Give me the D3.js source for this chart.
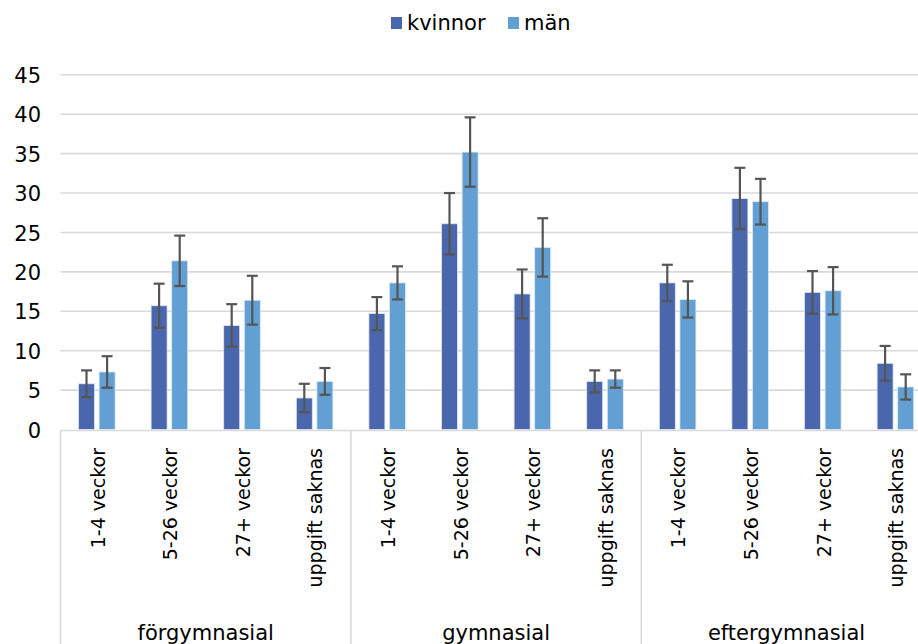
<!DOCTYPE html>
<html>
<head>
<meta charset="utf-8">
<script src="https://cdn.jsdelivr.net/npm/d3@7/dist/d3.min.js"></script>
<style>
  html, body { margin: 0; padding: 0; background: #fff; }
  svg { display: block; }
  text { font-family: "DejaVu Sans", sans-serif; fill: #000; }
</style>
</head>
<body>
<svg id="chart" width="918" height="644"></svg>
<script>
// ---- data ----
const groups = ["förgymnasial", "gymnasial", "eftergymnasial"];
const categories = ["1-4 veckor", "5-26 veckor", "27+ veckor", "uppgift saknas"];
const seriesNames = ["kvinnor", "män"];
const kvinnor = [5.8, 15.7, 13.2, 4.0, 14.7, 26.1, 17.2, 6.1, 18.6, 29.3, 17.4, 8.4];
const man =     [7.3, 21.4, 16.4, 6.1, 18.6, 35.2, 23.1, 6.4, 16.5, 28.9, 17.6, 5.4];
const kvinnorErr = [1.7, 2.8, 2.7, 1.8, 2.1, 3.9, 3.1, 1.4, 2.3, 3.9, 2.7, 2.2];
const manErr =     [2.0, 3.2, 3.1, 1.7, 2.1, 4.4, 3.7, 1.1, 2.3, 2.9, 3.0, 1.6];
const yTicks = [0, 5, 10, 15, 20, 25, 30, 35, 40, 45];
const colors = ["#4a66ac", "#629fd3"];

// ---- layout ----
const W = 918, H = 644;
const x0 = 60.5, step = 72.6;
const plotTop = 74.8, plotBottom = 429.5;
const svg = d3.select("#chart");

const keys = [];
groups.forEach(g => categories.forEach(c => keys.push(g + "|" + c)));

const x = d3.scaleBand().domain(keys).range([x0, x0 + step * keys.length]).padding(0);
const xg = d3.scaleBand().domain(groups).range([x0, x0 + step * keys.length]).padding(0);
const xs = d3.scaleBand().domain(seriesNames).range([18, step - 18]).paddingInner(0.223).paddingOuter(0);
const y = d3.scaleLinear().domain([0, 45]).range([plotBottom, plotTop]);

// gridlines
svg.append("g").selectAll("line").data(yTicks.filter(t => t > 0)).join("line")
  .attr("x1", x0).attr("x2", W)
  .attr("y1", d => y(d)).attr("y2", d => y(d))
  .attr("stroke", "#d9d9d9").attr("stroke-width", 1.6);

// y axis labels
const yAxis = d3.axisLeft(y).tickValues(yTicks).tickSize(0).tickPadding(0);
const ya = svg.append("g").attr("transform", "translate(41,0)").call(yAxis);
ya.select(".domain").remove();
ya.selectAll("text").attr("font-size", 21).attr("font-family", "DejaVu Sans").attr("fill", "#000").attr("dy", "0.36em");

// bars
const seriesData = [
  {name: "kvinnor", values: kvinnor, err: kvinnorErr, color: colors[0]},
  {name: "män", values: man, err: manErr, color: colors[1]}
];
seriesData.forEach(s => {
  const g = svg.append("g");
  keys.forEach((k, i) => {
    const bx = x(k) + xs(s.name);
    g.append("rect")
      .attr("x", bx).attr("width", xs.bandwidth())
      .attr("y", y(s.values[i])).attr("height", y(0) - y(s.values[i]))
      .attr("fill", s.color).attr("stroke", "#dfe8f3").attr("stroke-width", 0.8);
  });
});

// x axis line and group separators
svg.append("line").attr("x1", x0).attr("x2", W).attr("y1", plotBottom + 1).attr("y2", plotBottom + 1)
  .attr("stroke", "#d9d9d9").attr("stroke-width", 1.6);
const seps = groups.map(g => xg(g)).concat([x0 + step * keys.length]);
svg.append("g").selectAll("line").data(seps).join("line")
  .attr("x1", d => d).attr("x2", d => d)
  .attr("y1", plotBottom + 1).attr("y2", H)
  .attr("stroke", "#d9d9d9").attr("stroke-width", 1.6);

// error bars
seriesData.forEach(s => {
  const g = svg.append("g").attr("stroke", "#555555").attr("stroke-width", 2.2);
  keys.forEach((k, i) => {
    const cx = x(k) + xs(s.name) + xs.bandwidth() / 2;
    const hi = y(s.values[i] + s.err[i]), lo = y(s.values[i] - s.err[i]);
    g.append("line").attr("x1", cx).attr("x2", cx).attr("y1", hi).attr("y2", lo);
    g.append("line").attr("x1", cx - 5.5).attr("x2", cx + 5.5).attr("y1", hi).attr("y2", hi);
    g.append("line").attr("x1", cx - 5.5).attr("x2", cx + 5.5).attr("y1", lo).attr("y2", lo);
  });
});

// category labels (rotated)
svg.append("g").selectAll("text").data(keys).join("text")
  .attr("transform", d => `translate(${x(d) + x.bandwidth() / 2 + 1},448) rotate(-90)`)
  .attr("text-anchor", "end").attr("dy", "0.36em")
  .attr("font-size", 19)
  .text(d => d.split("|")[1]);

// group labels
svg.append("g").selectAll("text").data(groups).join("text")
  .attr("x", d => xg(d) + xg.bandwidth() / 2).attr("y", 640)
  .attr("text-anchor", "middle").attr("font-size", 21)
  .text(d => d);

// legend
const legend = svg.append("g");
const legX = [391, 508];
seriesData.forEach((s, i) => {
  legend.append("rect").attr("x", legX[i]).attr("y", 17).attr("width", 11).attr("height", 12).attr("fill", s.color);
  legend.append("text").attr("x", legX[i] + 16).attr("y", 30).attr("font-size", 21).text(s.name);
});
</script>
</body>
</html>
